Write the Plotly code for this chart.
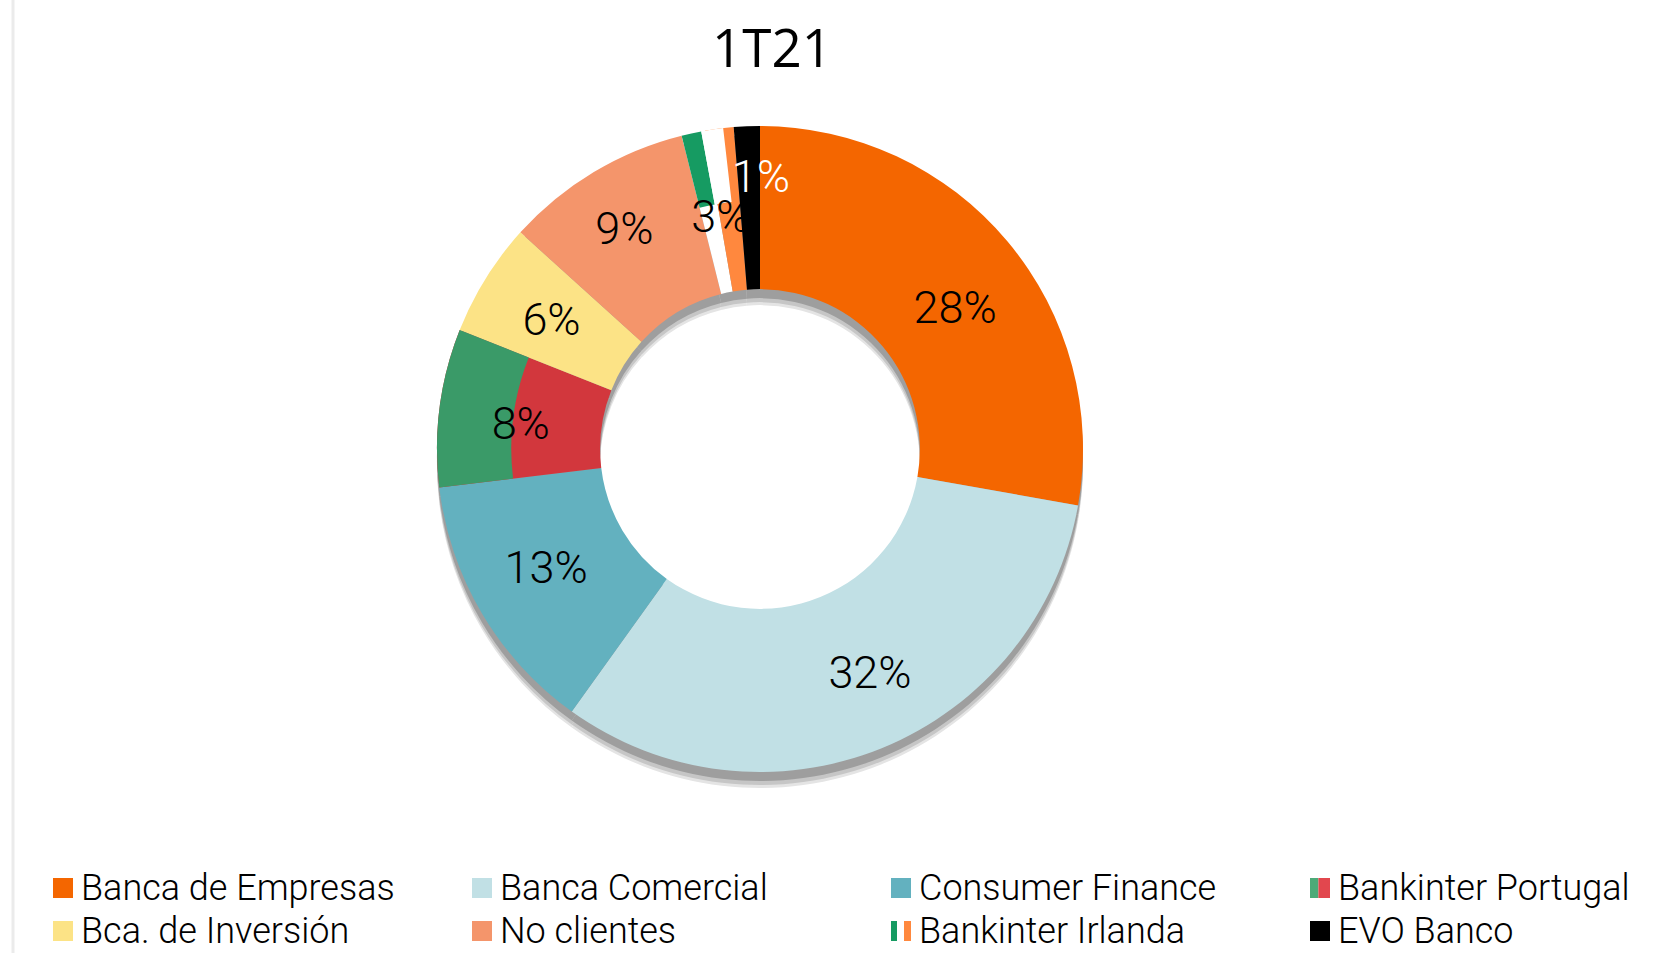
import plotly.graph_objects as go

# ---------------- data ----------------
title_text = "1T21"
labels = ["Banca de Empresas", "Banca Comercial", "Consumer Finance", "Bankinter Portugal",
          "Bca. de Inversión", "No clientes", "Bankinter Irlanda", "EVO Banco"]
values = [27.8, 32.1, 13.2, 7.9, 5.7, 9.4, 2.6, 1.3]

# ---------------- style ----------------
W, H = 1672, 953
CX, CY, R = 760, 449, 323          # donut centre / outer radius in px
HOLE = 0.495
OUTER_BAND_HOLE = 0.77
TRANSP = "rgba(0,0,0,0)"

slice_colors = ["#F46600", "#C1E0E5", "#63B1BF", "#D2373D",
                "#FCE386", "#F4956B", "#FFFFFF", "#000000"]
text_colors = ["#000000"] * 7 + ["#FFFFFF"]
# label placement: radius (px) of the transparent pie that carries each label, and a nudge (px)
label_pie_r = [R, R, R, 298, 292, R, 257, 281]
label_nudge = [(10, 14), (19, 0), (-6, -4), (-2, 5), (2, 1), (-7, -6), (-1, 2), (12, -3)]

POR = labels.index("Bankinter Portugal")
IRL = labels.index("Bankinter Irlanda")

# sub-colouring of the flag slices: (share of slice, colour)
ring_split = {IRL: [(0.45, "#FFFFFF"), (0.55, "#FF883E")]}
outer_split = {POR: [(1.0, "#3A9A68")],
               IRL: [(0.38, "#169B62"), (0.42, "#FFFFFF"), (0.20, TRANSP)]}

legend_swatch = {POR: [(0.42, "#4DAA78"), (0.58, "#E2474E")],
                 IRL: [(0.3, "#169B62"), (0.35, "#FFFFFF"), (0.35, "#FF883E")]}
legend_colors = ["#F46600", "#C1E0E5", "#63B1BF", None,
                 "#FCE386", "#F4956B", None, "#000000"]
LEG_X = [53, 472, 891, 1310]
LEG_Y = [888, 931]
SW = 20
FONT = "Roboto"


def domain(dx=0, dy=0, r=R):
    return dict(x=[(CX + dx - r) / W, (CX + dx + r) / W],
                y=[(H - CY - dy - r) / H, (H - CY - dy + r) / H])


def expand(split, default):
    vals, cols, labs = [], [], []
    for i, v in enumerate(values):
        segs = split.get(i, [(1.0, default(i))])
        for k, (share, c) in enumerate(segs):
            vals.append(v * share)
            cols.append(c)
            labs.append(f"{labels[i]} #{k}")
    return vals, cols, labs


common = dict(sort=False, direction="clockwise", rotation=0, showlegend=False,
              marker_line_width=0)

fig = go.Figure()

# drop shadow (soft layers)
for dy, col in [(16, "#E4E4E4"), (13, "#C6C6C6"), (9, "#9E9E9E")]:
    fig.add_trace(go.Pie(values=values, labels=labels, hole=HOLE, domain=domain(dy=dy),
                         marker_colors=[col] * len(values), textinfo="none",
                         hoverinfo="skip", **common))

# main ring
v, c, l = expand(ring_split, lambda i: slice_colors[i])
fig.add_trace(go.Pie(values=v, labels=l, hole=HOLE, domain=domain(),
                     marker_colors=c, textinfo="none", hoverinfo="skip", **common))

# outer band (flag colours)
v, c, l = expand(outer_split, lambda i: TRANSP)
fig.add_trace(go.Pie(values=v, labels=l, hole=OUTER_BAND_HOLE, domain=domain(),
                     marker_colors=c, textinfo="none", hoverinfo="skip", **common))

# labels (one transparent pie per label)
for j in range(len(values)):
    rr = label_pie_r[j]
    ndx, ndy = label_nudge[j]
    tmpl = ["%{percent:.0%}" if i == j else "" for i in range(len(values))]
    fig.add_trace(go.Pie(values=values, labels=labels, hole=HOLE * R / rr,
                         domain=domain(dx=ndx, dy=ndy, r=rr),
                         marker_colors=[TRANSP] * len(values),
                         texttemplate=tmpl, textposition="inside",
                         insidetextorientation="horizontal",
                         textfont=dict(family=FONT, size=45, color=text_colors, weight=300),
                         hoverinfo="skip", **common))

shapes = [dict(type="line", xref="paper", yref="paper", x0=13 / W, x1=13 / W, y0=0, y1=1,
               line=dict(color="#EBEBEB", width=3))]
annotations = []
for i, lab in enumerate(labels):
    x0 = LEG_X[i % 4]
    yc = LEG_Y[i // 4]
    segs = legend_swatch.get(i, [(1.0, legend_colors[i])])
    xs = x0
    for share, col in segs:
        shapes.append(dict(type="rect", xref="paper", yref="paper",
                           x0=xs / W, x1=(xs + share * SW) / W,
                           y0=(H - yc - SW / 2) / H, y1=(H - yc + SW / 2) / H,
                           fillcolor=col, line_width=0))
        xs += share * SW
    annotations.append(dict(text=lab, xref="paper", yref="paper", x=(x0 + SW + 6) / W,
                            y=(H - yc) / H, xanchor="left", yanchor="middle", showarrow=False,
                            font=dict(family=FONT, size=36, color="#000000", weight=300)))

fig.update_layout(
    width=W, height=H, margin=dict(l=0, r=0, t=0, b=0),
    paper_bgcolor="white", plot_bgcolor="white",
    title=dict(text=title_text, x=772 / W, xanchor="center", y=1 - 48 / H, yanchor="middle",
               font=dict(family="Open Sans", size=53, color="#000000")),
    uniformtext=dict(minsize=45, mode="show"),
    shapes=shapes, annotations=annotations,
)

fig.write_html("out.html", config={"displayModeBar": False},
               post_script="document.body.style.margin='0';")
